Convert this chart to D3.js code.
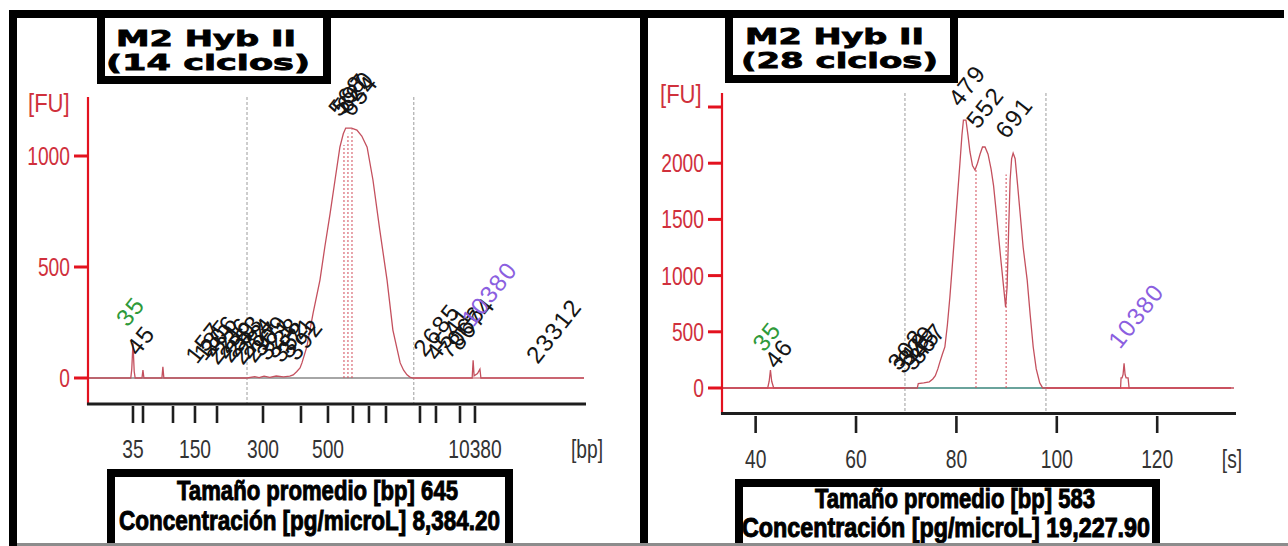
<!DOCTYPE html>
<html>
<head>
<meta charset="utf-8">
<script src="https://cdn.jsdelivr.net/npm/d3@7"></script>
<style>
  html, body { margin: 0; padding: 0; background: #fff; }
  svg { display: block; }
</style>
</head>
<body>
<div id="canvas"></div>
<script>
// ---- data ----
var timeDomain = [33.3, 135.3];   // migration time [s], same for both runs

// left run: ladder ticks (bp) at their migration time
var ladderSizes = [35, 50, 100, 150, 200, 300, 400, 500, 600, 700, 1000, 2000, 3000, 7000, 10380];
var ladderTimes = [42.55, 44.61, 50.78, 55.30, 59.83, 69.29, 77.10, 82.65, 87.79, 91.08, 94.58, 101.57, 104.86, 109.80, 112.88];
var ladderLabelled = [35, 150, 300, 500, 10380];

var leftYTicks = [0, 500, 1000];
var rightYTicks = [0, 500, 1000, 1500, 2000, 2500];
var rightXTicks = [40, 60, 80, 100, 120];

// electropherogram traces (time s, FU)
var leftTimes = [33.3, 42.1, 42.3, 42.55, 42.8, 43.0, 44.4, 44.6, 44.8, 48.5, 48.7, 48.9,
  66.0, 67.6, 68.5, 69.5, 70.7, 72.0, 73.5, 74.8, 75.5, 76.2, 76.9, 77.3, 78.3, 79.6, 81.0,
  82.0, 83.1, 84.1, 85.1, 85.8, 86.3, 87.5, 88.6, 89.6, 90.7, 91.9, 93.3, 94.8, 96.0, 97.5,
  98.2, 98.9, 99.5, 100.1, 112.3, 112.5, 112.7, 113.4, 113.9, 114.1, 135.3];
var leftFU = [0, 0, 40, 158, 30, 0, 0, 36, 0, 0, 50, 0,
  0, 6, 2, 8, 3, 9, 5, 8, 14, 28, 45, 68, 140, 293, 441,
  590, 743, 892, 1040, 1100, 1126, 1126, 1117, 1090, 1040, 892, 667, 441, 216, 68,
  35, 14, 4, 0, 0, 80, 10, 20, 40, 0, 0];

var rightTimes = [33.3, 42.4, 42.7, 42.95, 43.2, 43.6, 72.2, 72.4, 73.5, 74.6, 75.3, 75.8,
  76.3, 76.7, 77.2, 77.7, 78.2, 78.7, 79.2, 79.7, 80.2, 80.7, 81.1, 81.4, 81.9, 82.3, 82.7,
  83.2, 83.7, 84.2, 84.7, 85.2, 85.7, 86.3, 86.9, 87.4, 87.9, 88.4, 88.9, 89.4, 89.8, 90.1,
  90.4, 90.7, 91.0, 91.3, 91.7, 92.2, 92.7, 93.3, 94.1, 94.7, 95.3, 95.9, 96.6, 97.2,
  112.7, 112.8, 113.0, 113.2, 113.4, 113.6, 113.8, 114.2, 114.4, 135.3];
var rightFU = [0, 0, 60, 160, 60, 0, 0, 40, 45, 55, 80, 110,
  170, 230, 300, 365, 560, 810, 1100, 1400, 1700, 2000, 2250, 2384, 2384, 2250, 2100,
  1980, 1940, 2000, 2080, 2144, 2144, 2080, 1950, 1800, 1580, 1350, 1120, 900, 720, 900,
  1400, 1850, 2040, 2090, 2040, 1800, 1550, 1250, 960, 650, 365, 170, 45, 0,
  0, 90, 90, 120, 220, 120, 90, 90, 0, 0];

// peak labels: [text, time, FU level of label start, kind]
var leftPeakLabels = [
  ['35', 41.5, 225, 'lower'], ['45', 43.6, 95, 'peak'], ['157', 55.7, 59, 'peak'],
  ['185', 57.4, 72, 'peak'], ['206', 58.8, 90, 'peak'], ['221', 60.0, 54, 'peak'],
  ['236', 61.5, 81, 'peak'], ['250', 62.7, 63, 'peak'], ['263', 63.9, 90, 'peak'],
  ['272', 65.2, 54, 'peak'], ['284', 66.4, 81, 'peak'], ['297', 67.6, 63, 'peak'],
  ['309', 69.1, 90, 'peak'], ['321', 70.3, 72, 'peak'], ['338', 71.8, 81, 'peak'],
  ['352', 73.2, 63, 'peak'], ['371', 74.8, 81, 'peak'], ['392', 76.3, 72, 'peak'],
  ['568', 85.1, 1171, 'peak'], ['597', 85.9, 1180, 'peak'], ['620', 86.8, 1189, 'peak'],
  ['654', 87.6, 1171, 'peak'],
  ['2685', 102.6, 90, 'peak'], ['4541', 105.1, 72, 'peak'], ['7066', 107.7, 81, 'peak'],
  ['8674', 109.8, 117, 'peak'], ['10380', 112.5, 225, 'upper'], ['23312', 125.8, 59, 'peak']
];
var rightPeakLabels = [
  ['35', 41.7, 311, 'lower'], ['46', 44.1, 160, 'peak'],
  ['302', 68.6, 142, 'peak'], ['318', 69.6, 116, 'peak'], ['329', 70.6, 178, 'peak'],
  ['345', 71.5, 142, 'peak'], ['367', 72.7, 196, 'peak'],
  ['479', 80.7, 2491, 'peak'], ['552', 84.3, 2295, 'peak'], ['691', 90.1, 2206, 'peak'],
  ['10380', 112.6, 338, 'upper']
];

// region / peak-window markers [time, FU]
var leftRegion = [66.0, 100.3];
var rightRegion = [69.75, 97.84];
var leftWindows = [[85.94, 1050], [86.76, 1100], [87.59, 1120]];
var rightWindows = [[83.9, 1940], [89.9, 1900]];

var titles = [['M2 Hyb II', '(14 ciclos)'], ['M2 Hyb II', '(28 ciclos)']];
var infoLines = [
  ['Tamaño promedio [bp] 645', 'Concentración [pg/microL] 8,384.20'],
  ['Tamaño promedio [bp] 583', 'Concentración [pg/microL] 19,227.90']
];

// ---- drawing ----
var W = 1288, H = 546;
var axisRed = '#e3121f', labelRed = '#d0303c', traceCol = '#c4505e';
var kindColor = { peak: '#151515', lower: '#2f9a3a', upper: '#8b5fe0' };
var narrowFont = '"Liberation Sans", Arial, sans-serif';

var svg = d3.select('#canvas').append('svg')
  .attr('width', W)
  .attr('height', H)
  .style('background-color', '#fff');

var narrowText = function(g, x, y, str, size, sx, anchor, fill) {
  return g.append('text')
    .attr('transform', 'translate(' + x + ',' + y + ') scale(' + sx + ',1)')
    .attr('text-anchor', anchor)
    .attr('fill', fill)
    .style('font-family', narrowFont)
    .style('font-size', size + 'px')
    .text(str);
}

var panels = [
  {
    xRange: [88, 584], yZero: 378, yRef: 1000, yRefPx: 156, yTop: 97, axisY: 404,
    tickTop: 406, tickBot: 423, labelY: 458, yTicks: leftYTicks,
    times: leftTimes, fu: leftFU, labels: leftPeakLabels,
    region: leftRegion, windows: leftWindows,
    baseline: [[timeDomain[0], leftRegion[1], '#a6a6a6'], [leftRegion[1], timeDomain[1], '#dca6ac']],
    fuX: 28, fuY: 112, unit: '[bp]', unitX: 587, unitY: 458
  },
  {
    xRange: [722, 1234], yZero: 388, yRef: 2000, yRefPx: 163.2, yTop: 93, axisY: 413.5,
    tickTop: 416, tickBot: 433, labelY: 468, yTicks: rightYTicks,
    times: rightTimes, fu: rightFU, labels: rightPeakLabels,
    region: rightRegion, windows: rightWindows,
    baseline: [[timeDomain[0], rightRegion[0], '#de5a68'], [rightRegion[0], rightRegion[1], '#6aa39c'],
      [rightRegion[1], 134.7, '#de5a68']],
    fuX: 660, fuY: 103, unit: '[s]', unitX: 1232, unitY: 468
  }
];

panels.forEach(function(p, pi) {
  var x = d3.scaleLinear().domain(timeDomain).range(p.xRange);
  var y = d3.scaleLinear().domain([0, p.yRef]).range([p.yZero, p.yRefPx]);
  var g = svg.append('g');
  var x0 = p.xRange[0];

  // grey dashed region bounds
  p.region.forEach(function(t) {
    g.append('line')
      .attr('x1', x(t)).attr('x2', x(t))
      .attr('y1', p.yTop).attr('y2', p.axisY)
      .attr('stroke', '#9c9c9c')
      .attr('stroke-width', 1)
      .attr('stroke-dasharray', '3,2');
  });

  // baseline
  p.baseline.forEach(function(s) {
    g.append('line')
      .attr('x1', x(s[0])).attr('x2', x(s[1]))
      .attr('y1', y(0)).attr('y2', y(0))
      .attr('stroke', s[2])
      .attr('stroke-width', 2);
  });

  // peak window markers
  p.windows.forEach(function(m) {
    g.append('line')
      .attr('x1', x(m[0])).attr('x2', x(m[0]))
      .attr('y1', y(0)).attr('y2', y(m[1]))
      .attr('stroke', '#d24a58')
      .attr('stroke-width', 1)
      .attr('stroke-dasharray', '2,2');
  });

  // trace
  var line = d3.line()
    .x(function(d, i) { return x(p.times[i]); })
    .y(function(d) { return y(d); });
  g.append('path')
    .datum(p.fu)
    .attr('d', line)
    .attr('fill', 'none')
    .attr('stroke', traceCol)
    .attr('stroke-width', 1.3);

  // peak labels
  p.labels.forEach(function(l) {
    g.append('text')
      .attr('transform', 'translate(' + x(l[1]) + ',' + y(l[2]) + ') rotate(-52)')
      .attr('fill', kindColor[l[3]])
      .style('font-family', narrowFont)
      .style('font-size', '24px')
      .style('letter-spacing', '1.4px')
      .text(l[0]);
  });

  // y axis
  g.append('line')
    .attr('x1', x0).attr('x2', x0)
    .attr('y1', p.yTop).attr('y2', p.axisY + 1)
    .attr('stroke', axisRed)
    .attr('stroke-width', 2.2);
  p.yTicks.forEach(function(v) {
    g.append('line')
      .attr('x1', x0 - 14).attr('x2', x0)
      .attr('y1', y(v)).attr('y2', y(v))
      .attr('stroke', axisRed)
      .attr('stroke-width', 3);
    if (y(v) > p.fuY + 10) {
      narrowText(g, x0 - 18, y(v) + 9, String(v), 26, 0.74, 'end', labelRed);
    }
  });
  narrowText(g, p.fuX, p.fuY, '[FU]', 26, 0.85, 'start', labelRed);

  // x axis
  g.append('line')
    .attr('x1', x0 - 1).attr('x2', p.xRange[1] + 2)
    .attr('y1', p.axisY).attr('y2', p.axisY)
    .attr('stroke', '#1e1e1e')
    .attr('stroke-width', 3);

  var tickTimes = pi === 0 ? ladderTimes : rightXTicks;
  tickTimes.forEach(function(t, i) {
    g.append('line')
      .attr('x1', x(t)).attr('x2', x(t))
      .attr('y1', p.tickTop).attr('y2', p.tickBot)
      .attr('stroke', '#1e1e1e')
      .attr('stroke-width', 2.6);
    var lab = pi === 0 ? (ladderLabelled.indexOf(ladderSizes[i]) >= 0 ? ladderSizes[i] : null) : t;
    if (lab !== null) {
      narrowText(g, x(t), p.labelY, String(lab), 26, 0.74, 'middle', '#333');
    }
  });
  narrowText(g, p.unitX, p.unitY, p.unit, 26, 0.74, 'middle', '#333');
});

// ---- frame, title and info boxes ----
var frame = svg.append('g').attr('fill', '#000');
frame.append('rect').attr('x', 9).attr('y', 10).attr('width', 1275).attr('height', 8);
frame.append('rect').attr('x', 9).attr('y', 10).attr('width', 8).attr('height', H - 10);
frame.append('rect').attr('x', 640).attr('y', 10).attr('width', 8).attr('height', H - 10);

var titleBoxes = [
  { x: 101, y: 14, w: 226, h: 66, l1x: 116, l1y: 46, l1w: 180, l2x: 106, l2y: 70, l2w: 204 },
  { x: 729, y: 14, w: 225, h: 65, l1x: 745, l1y: 44, l1w: 179, l2x: 741, l2y: 68, l2w: 197 }
];
titleBoxes.forEach(function(b, i) {
  svg.append('rect')
    .attr('x', b.x).attr('y', b.y).attr('width', b.w).attr('height', b.h)
    .attr('fill', '#fff').attr('stroke', '#000').attr('stroke-width', 8);
  [[b.l1x, b.l1y, b.l1w], [b.l2x, b.l2y, b.l2w]].forEach(function(pos, k) {
    svg.append('text')
      .attr('x', pos[0]).attr('y', pos[1])
      .attr('textLength', pos[2])
      .attr('lengthAdjust', 'spacingAndGlyphs')
      .style('font-family', '"DejaVu Sans", sans-serif')
      .style('font-weight', 'bold')
      .style('font-size', '22px')
      .attr('fill', '#000')
      .attr('stroke', '#000')
      .attr('stroke-width', 0.8)
      .text(titles[i][k]);
  });
});

var infoBoxes = [
  { x: 111, y: 473, w: 398, h: 100, size: 28, lines: [[177, 500, 281], [119, 530, 381]] },
  { x: 739, y: 483, w: 417, h: 100, size: 27, lines: [[815, 508, 280], [742, 537, 408]] }
];
infoBoxes.forEach(function(b, i) {
  svg.append('rect')
    .attr('x', b.x).attr('y', b.y).attr('width', b.w).attr('height', b.h)
    .attr('fill', '#fff').attr('stroke', '#000').attr('stroke-width', 8);
  b.lines.forEach(function(pos, k) {
    svg.append('text')
      .attr('x', pos[0]).attr('y', pos[1])
      .attr('textLength', pos[2])
      .attr('lengthAdjust', 'spacingAndGlyphs')
      .style('font-family', narrowFont)
      .style('font-weight', 'bold')
      .style('font-size', b.size + 'px')
      .attr('fill', '#000')
      .attr('stroke', '#000')
      .attr('stroke-width', 1)
      .text(infoLines[i][k]);
  });
});

// scan edge at the bottom
svg.append('rect').attr('x', 17).attr('y', 543).attr('width', W - 17).attr('height', 3).attr('fill', '#8c8c8c');
</script>
</body>
</html>
